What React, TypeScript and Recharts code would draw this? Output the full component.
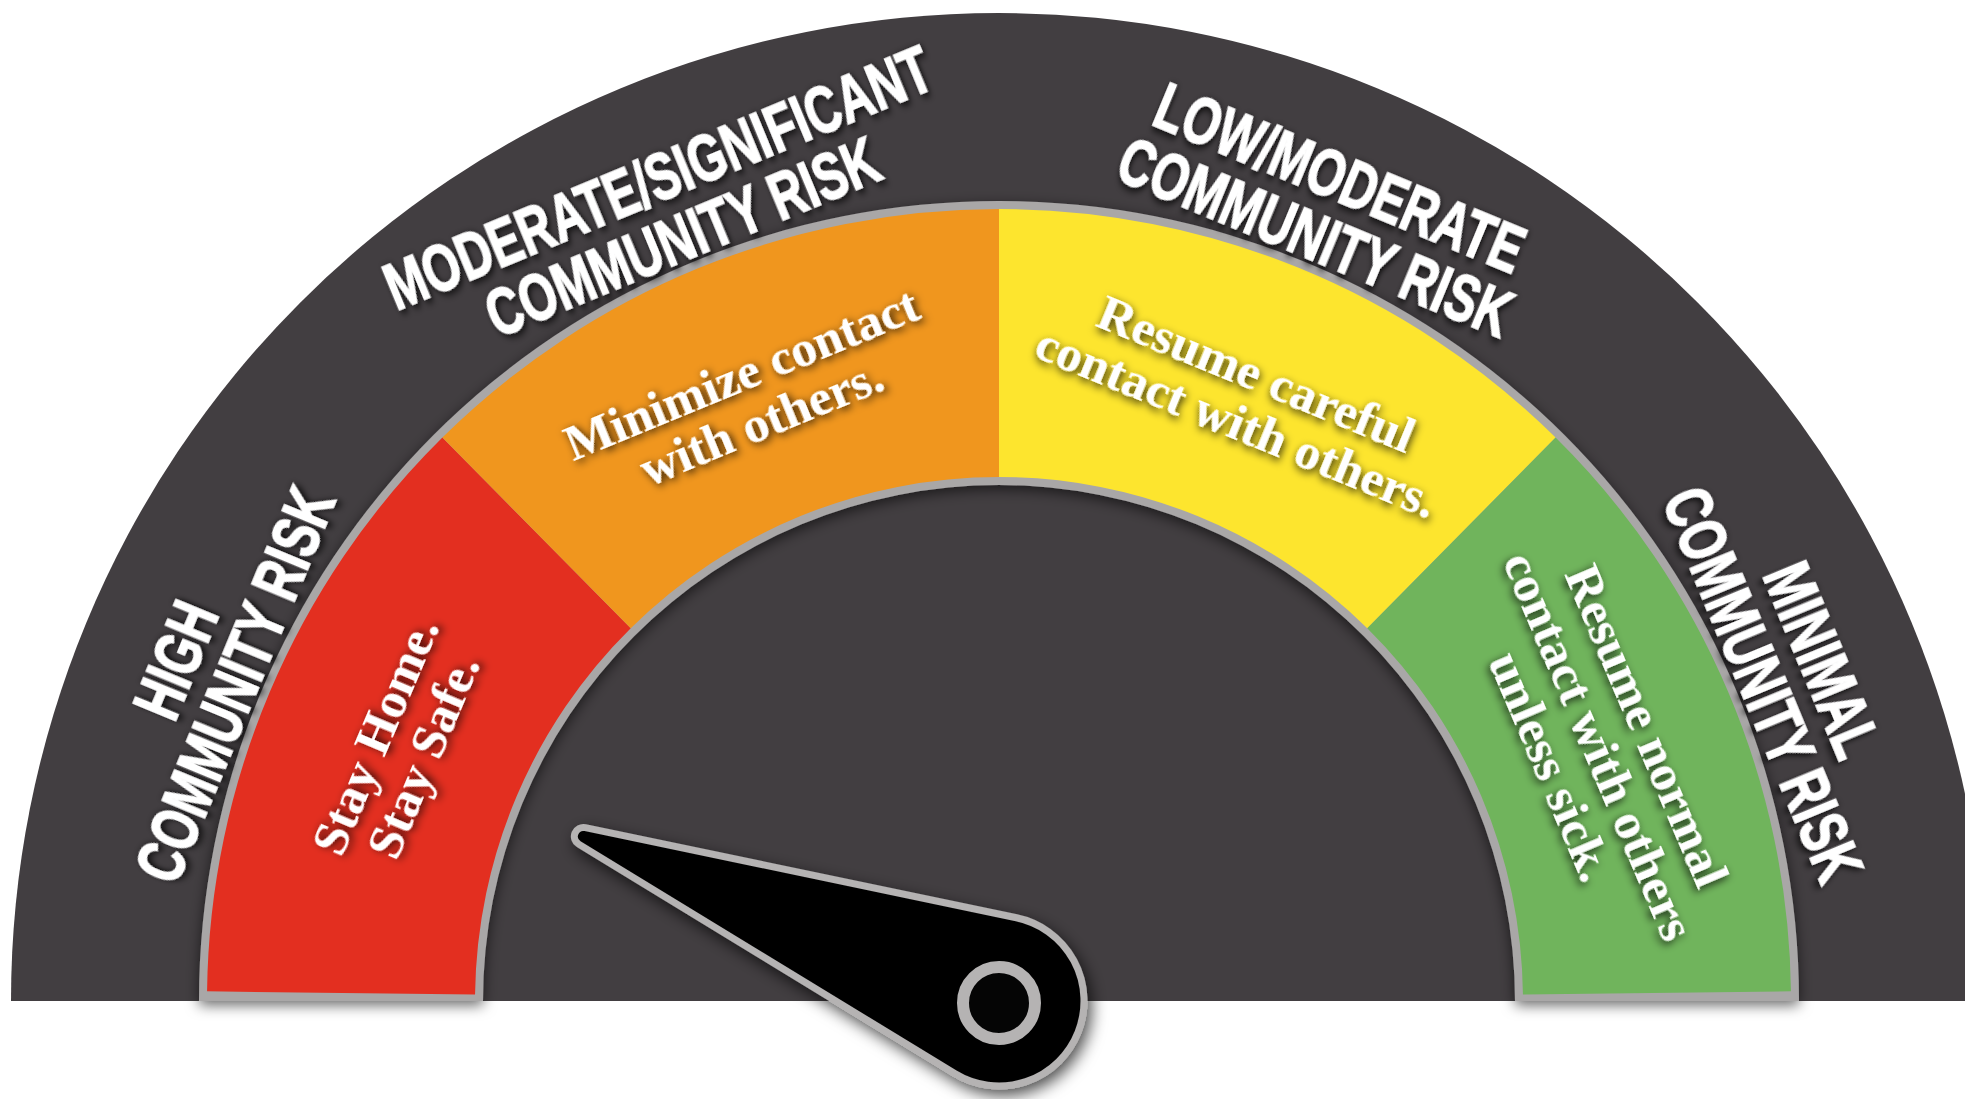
import { Cell, Pie, PieChart } from "recharts";

const ZONE_NAMES = ["high", "moderate", "low", "minimal"];
const ZONE_VALUES = [25, 25, 25, 25];
const ZONE_COLORS = ["#e32f20", "#f0961e", "#fde52e", "#70b45c"];
const RISK_LABELS = [
  ["HIGH", "COMMUNITY RISK"],
  ["MODERATE/SIGNIFICANT", "COMMUNITY RISK"],
  ["LOW/MODERATE", "COMMUNITY RISK"],
  ["MINIMAL", "COMMUNITY RISK"],
];
const ADVICE = [
  ["Stay Home.", "Stay Safe."],
  ["Minimize contact", "with others."],
  ["Resume careful", "contact with others."],
  ["Resume normal", "contact with others", "unless sick."],
];
const NEEDLE_VALUE = 12;
const GAUGE_MAX = 100;

const W = 1965;
const H = 1099;
const CX = 999;
const CY = 1001;
const DARK = "#423e41";
const RIM = "#a9a7a7";

const zones = ZONE_NAMES.map((name, i) => ({
  name,
  value: ZONE_VALUES[i],
  fill: ZONE_COLORS[i],
}));
const needleData = [
  { name: "needle", value: NEEDLE_VALUE },
  { name: "rest", value: GAUGE_MAX - NEEDLE_VALUE },
];

const RAD = Math.PI / 180;

function curvedBlock(
  lines: string[],
  cx: number,
  cy: number,
  midAngle: number,
  r: number,
  lineH: number,
  squeeze: number,
  style: any
) {
  const x = cx + r * Math.cos(midAngle * RAD);
  const y = cy - r * Math.sin(midAngle * RAD);
  const n = lines.length;
  return (
    <g transform={`translate(${x},${y}) rotate(${90 - midAngle}) scale(${squeeze},1)`}>
      {lines.map((line, i) => (
        <text
          key={i}
          x={0}
          y={(i - (n - 1) / 2) * lineH}
          textAnchor="middle"
          dominantBaseline="central"
          {...style}
        >
          {line}
        </text>
      ))}
    </g>
  );
}

const riskLabel = (p: any) =>
  curvedBlock(RISK_LABELS[p.index], p.cx, p.cy, p.midAngle, 860, 64, 0.71, {
    fill: "#ffffff",
    stroke: "#ffffff",
    strokeWidth: 1.5,
    fontFamily: "'Liberation Sans', Arial, sans-serif",
    fontWeight: 700,
    fontSize: 67,
    filter: "url(#txtShadow)",
  });

const adviceLabel = (p: any) =>
  curvedBlock(ADVICE[p.index], p.cx, p.cy, p.midAngle, 652, 52, 1, {
    fill: "#ffffff",
    fontFamily: "'Liberation Serif', 'DejaVu Serif', serif",
    fontWeight: 700,
    fontSize: 51,
    filter: "url(#txtShadow)",
  });

const needleLabel = (p: any) => {
  if (p.index !== 0) return null;
  const end = p.endAngle ?? 2 * p.midAngle - p.startAngle;
  const cx = p.cx;
  const cy = p.cy;
  const L = 447;
  const R = 85;
  const r = 9;
  const a = end * RAD;
  const u = [Math.cos(a), -Math.sin(a)];
  const n = [-u[1], u[0]];
  const phi = Math.acos((R - r) / L);
  const wp = [Math.cos(phi) * u[0] + Math.sin(phi) * n[0], Math.cos(phi) * u[1] + Math.sin(phi) * n[1]];
  const wm = [Math.cos(phi) * u[0] - Math.sin(phi) * n[0], Math.cos(phi) * u[1] - Math.sin(phi) * n[1]];
  const tx = cx + L * u[0];
  const ty = cy + L * u[1];
  const d = [
    `M${cx + R * wp[0]},${cy + R * wp[1]}`,
    `L${tx + r * wp[0]},${ty + r * wp[1]}`,
    `A${r},${r} 0 0 0 ${tx + r * wm[0]},${ty + r * wm[1]}`,
    `L${cx + R * wm[0]},${cy + R * wm[1]}`,
    `A${R},${R} 0 1 0 ${cx + R * wp[0]},${cy + R * wp[1]}`,
    "Z",
  ].join(" ");
  return (
    <g>
      <path d={d} fill="#050505" stroke="#b5b3b3" strokeWidth={7} strokeLinejoin="round" filter="url(#needleShadow)" />
      <circle cx={cx} cy={cy + 2} r={36} fill="#050505" stroke="#b5b3b3" strokeWidth={12} />
    </g>
  );
};

export default function App() {
  return (
    <div style={{ position: "absolute", left: 0, top: 0, width: W, height: H, background: "#ffffff" }}>
      <PieChart width={W} height={H} margin={{ top: 0, right: 0, bottom: 0, left: 0 }}>
        <defs>
          <filter id="txtShadow" x="-30%" y="-60%" width="160%" height="220%">
            <feDropShadow dx="2" dy="3" stdDeviation="4" floodColor="#000000" floodOpacity="0.85" />
          </filter>
          <filter id="needleShadow" x="-30%" y="-30%" width="160%" height="160%">
            <feDropShadow dx="4" dy="6" stdDeviation="8" floodColor="#000000" floodOpacity="0.7" />
          </filter>
          <filter id="bandShadow" x="-10%" y="-10%" width="120%" height="120%">
            <feDropShadow dx="0" dy="4" stdDeviation="7" floodColor="#000000" floodOpacity="0.6" />
          </filter>
        </defs>
        {/* dark gauge face */}
        <Pie
          data={[{ name: "face", value: GAUGE_MAX }]}
          dataKey="value"
          cx={CX}
          cy={CY}
          startAngle={180}
          endAngle={0}
          innerRadius={0}
          outerRadius={988}
          fill={DARK}
          stroke="none"
          isAnimationActive={false}
        />
        {/* risk level titles, one per zone */}
        <Pie
          data={zones}
          dataKey="value"
          cx={CX}
          cy={CY}
          startAngle={180}
          endAngle={0}
          innerRadius={800}
          outerRadius={988}
          stroke="none"
          label={riskLabel}
          labelLine={false}
          isAnimationActive={false}
        >
          {zones.map((z) => (
            <Cell key={z.name} fill="rgba(0,0,0,0)" />
          ))}
        </Pie>
        <Pie
          data={[{ name: "rim", value: GAUGE_MAX }]}
          dataKey="value"
          cx={CX}
          cy={CY}
          startAngle={180}
          endAngle={0}
          innerRadius={516}
          outerRadius={800}
          fill={RIM}
          stroke="none"
          filter="url(#bandShadow)"
          isAnimationActive={false}
        />
        <Pie
          data={zones}
          dataKey="value"
          cx={CX}
          cy={CY}
          startAngle={179.3}
          endAngle={0.7}
          innerRadius={524}
          outerRadius={792}
          stroke="none"
          label={adviceLabel}
          labelLine={false}
          isAnimationActive={false}
        />
        <Pie
          data={needleData}
          dataKey="value"
          cx={CX}
          cy={CY}
          startAngle={180}
          endAngle={0}
          innerRadius={0}
          outerRadius={10}
          fill="rgba(0,0,0,0)"
          stroke="none"
          label={needleLabel}
          labelLine={false}
          isAnimationActive={false}
        />
      </PieChart>
    </div>
  );
}
